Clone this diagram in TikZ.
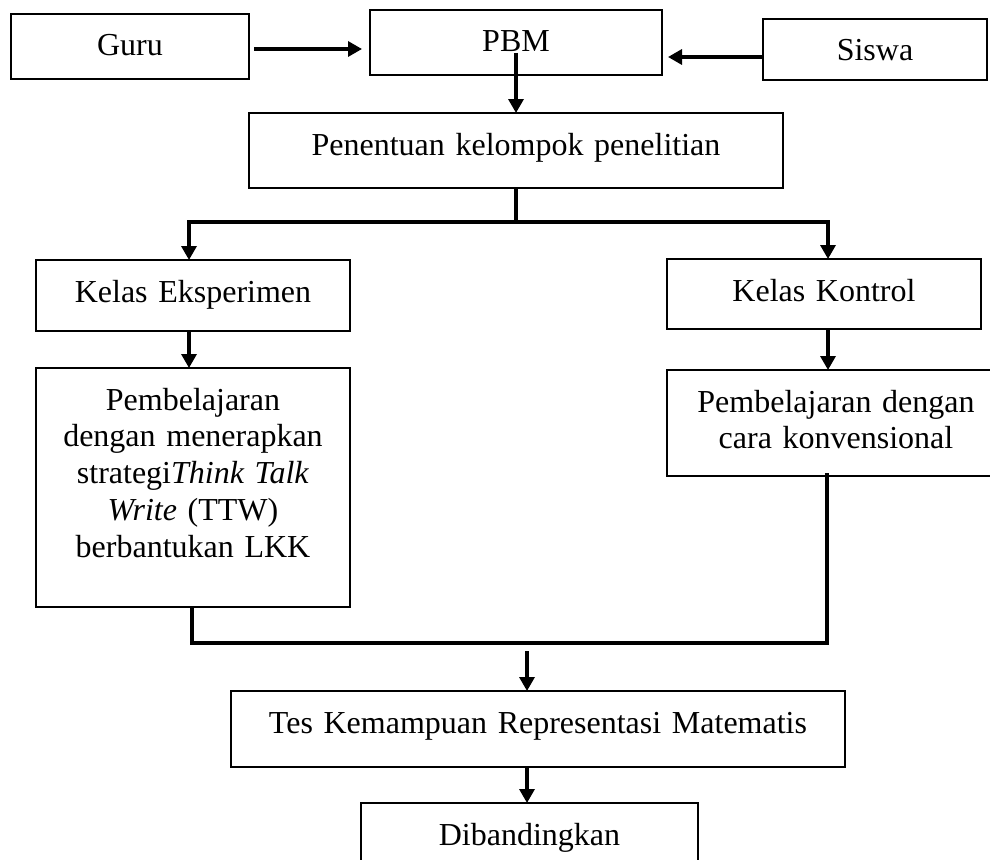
\documentclass[tikz,border=0pt]{standalone}
\usepackage{fontspec}
\setmainfont{Liberation Serif}
\usetikzlibrary{arrows.meta}
\begin{document}
\begin{tikzpicture}[x=1pt,y=-1pt,
  box/.style={draw, line width=1.3pt, inner sep=0pt, outer sep=0pt, anchor=north west,
    align=center, text height=42pt, font=\fontsize{32}{36.8}\selectfont},
  conn/.style={line width=3.3pt},
  arr/.style={conn, -{Triangle[width=15pt,length=14pt]}}]
\useasboundingbox (0,0) rectangle (990,859);
\clip (0,0) rectangle (990,859);
% boxes
\node[box, text width=238pt, text depth=23pt] (guru) at (11,14) {Guru};
\node[box, text width=292pt, text depth=23pt] (pbm) at (370,10) {PBM};
\node[box, text width=224pt, text depth=19pt] (siswa) at (763,19) {Siswa};
\node[box, text width=534pt, text depth=33pt] (pen) at (249,113) {Penentuan kelompok penelitian};
\node[box, text width=314pt, text depth=29pt] (ke) at (36,260) {Kelas Eksperimen};
\node[box, text width=314pt, text depth=28pt] (kk) at (667,259) {Kelas Kontrol};
\node[box, text width=314pt, text depth=197pt] (pl) at (36,368)
  {Pembelajaran\\dengan menerapkan\\strategi\textit{Think Talk}\\\textit{Write} (TTW)\\berbantukan LKK};
\node[box, text width=338pt, text depth=64pt] (pr) at (667,370)
  {Pembelajaran dengan\\cara konvensional};
\node[box, text width=614pt, text depth=34pt] (tes) at (231,691) {Tes Kemampuan Representasi Matematis};
\node[box, text width=337pt, text depth=33pt] (dib) at (361,803) {Dibandingkan};
% connectors
\draw[arr, shorten <=5pt, shorten >=8pt] ([yshift=-2.5pt]guru.east) -- ([yshift=-2.5pt]guru.east -| pbm.west);
\draw[arr, shorten >=6pt] ([yshift=-7.5pt]siswa.west) -- ([yshift=-7.5pt]siswa.west -| pbm.east);
\draw[arr] ([yshift=22pt]pbm.south) -- (pen.north);
\coordinate (jt) at (516,222);
\draw[conn] (pen.south) -- (jt);
\draw[arr] (jt) -| ([xshift=-4pt]ke.north);
\draw[arr] (jt) -| ([xshift=4pt]kk.north);
\draw[arr] ([xshift=-4pt]ke.south) -- ([xshift=-4pt]pl.north);
\draw[arr] ([xshift=4pt]kk.south) -- ([xshift=4pt]kk.south |- pr.north);
\coordinate (jb) at (527,643);
\draw[conn] ([xshift=-1pt]pl.south) |- (jb) -| ([xshift=-9pt,yshift=3pt]pr.south);
\draw[arr] ([yshift=-8pt]jb) -- (jb |- tes.north);
\draw[arr] (tes.south -| jb) -- (jb |- dib.north);
\end{tikzpicture}
\end{document}
